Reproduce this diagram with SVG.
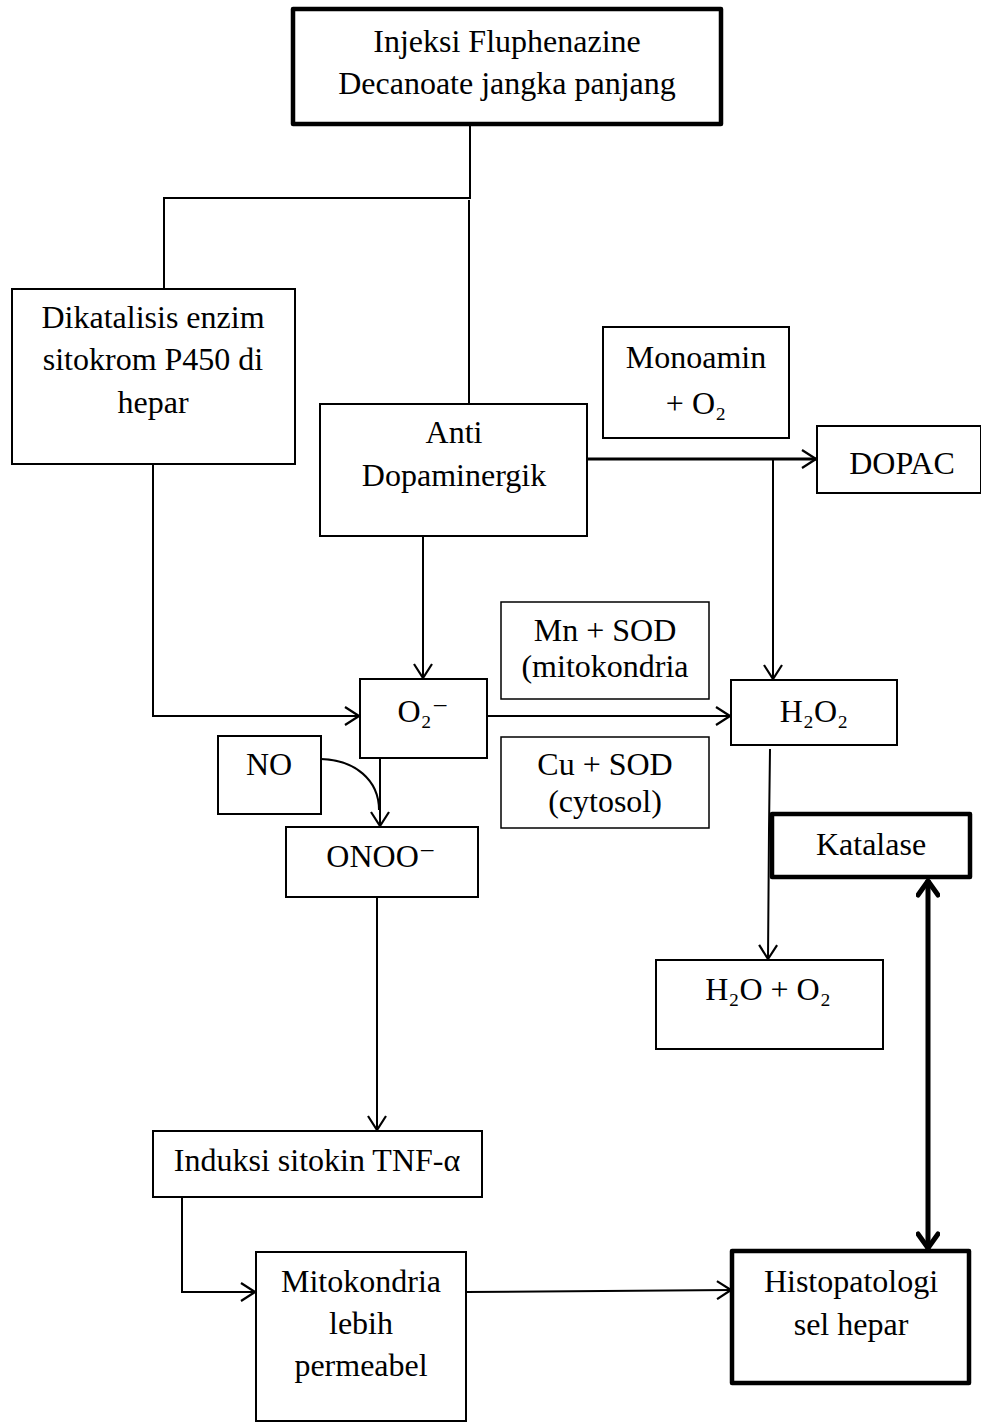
<svg xmlns="http://www.w3.org/2000/svg" width="981" height="1423" viewBox="0 0 981 1423">
<style>
.box{fill:#fff;stroke:#000;stroke-width:2}
.thin{fill:#fff;stroke:#000;stroke-width:1.5}
.thick{fill:#fff;stroke:#000;stroke-width:4.5;stroke-linejoin:round}
.ln{fill:none;stroke:#000;stroke-width:2}
.ln3{fill:none;stroke:#000;stroke-width:3}
.lnT{fill:none;stroke:#000;stroke-width:5}
text{font-family:"Liberation Serif","DejaVu Serif",serif;font-size:32px;fill:#000;text-anchor:middle}
</style>
<defs>
<marker id="ah" viewBox="0 0 16 20" refX="15" refY="10" markerWidth="16" markerHeight="20" markerUnits="userSpaceOnUse" orient="auto">
<path d="M1,1 L15,10 L1,19" fill="none" stroke="#000" stroke-width="2.2"/>
</marker>
<marker id="ahT" viewBox="0 0 20 24" refX="18" refY="12" markerWidth="20" markerHeight="24" markerUnits="userSpaceOnUse" orient="auto-start-reverse">
<path d="M3,2 L17,12 L3,22" fill="none" stroke="#000" stroke-width="5" stroke-linecap="round" stroke-linejoin="round"/>
</marker>
</defs>
<g id="connectors">
<polyline class="ln" points="470,124 470,198 164,198 164,289"/>
<line class="ln" x1="469" y1="200" x2="469" y2="404"/>
<polyline class="ln" points="153,464 153,716 359,716" marker-end="url(#ah)"/>
<line class="ln" x1="423" y1="536" x2="423" y2="678" marker-end="url(#ah)"/>
<line class="ln3" x1="587" y1="459" x2="816" y2="459" marker-end="url(#ah)"/>
<line class="ln" x1="773" y1="459" x2="773" y2="679" marker-end="url(#ah)"/>
<line class="ln" x1="487" y1="716" x2="730" y2="716" marker-end="url(#ah)"/>
<line class="ln" x1="380" y1="758" x2="380" y2="826" marker-end="url(#ah)"/>
<path class="ln" d="M321,759 C355,760 379,780 379,810"/>
<polyline class="ln" points="770,749 769,830 768,959" marker-end="url(#ah)"/>
<line class="lnT" x1="928" y1="880" x2="928" y2="1249" marker-start="url(#ahT)" marker-end="url(#ahT)"/>
<line class="ln" x1="377" y1="897" x2="377" y2="1130" marker-end="url(#ah)"/>
<polyline class="ln" points="182,1197 182,1292 255,1292" marker-end="url(#ah)"/>
<line class="ln" x1="466" y1="1292" x2="731" y2="1290" marker-end="url(#ah)"/>
</g>
<g id="n-injeksi">
<rect class="thick" x="293" y="9" width="428" height="115"/>
<text x="507" y="52">Injeksi Fluphenazine</text>
<text x="507" y="94">Decanoate jangka panjang</text>
</g>
<g id="n-dikatalisis">
<rect class="box" x="12" y="289" width="283" height="175"/>
<text x="153" y="328">Dikatalisis enzim</text>
<text x="153" y="370">sitokrom P450 di</text>
<text x="153" y="413">hepar</text>
</g>
<g id="n-anti">
<rect class="box" x="320" y="404" width="267" height="132"/>
<text x="454" y="443">Anti</text>
<text x="454" y="486">Dopaminergik</text>
</g>
<g id="n-monoamin">
<rect class="box" x="603" y="327" width="186" height="111"/>
<text x="696" y="368">Monoamin</text>
<text x="696" y="414">+ O₂</text>
</g>
<g id="n-dopac">
<rect class="box" x="817" y="426" width="164" height="67"/>
<text x="902" y="474">DOPAC</text>
</g>
<g id="n-mnsod">
<rect class="thin" x="501" y="602" width="208" height="97"/>
<text x="605" y="641">Mn + SOD</text>
<text x="605" y="677">(mitokondria</text>
</g>
<g id="n-o2">
<rect class="box" x="360" y="679" width="127" height="79"/>
<text x="423" y="722">O₂⁻</text>
</g>
<g id="n-h2o2">
<rect class="box" x="731" y="680" width="166" height="65"/>
<text x="814" y="722">H₂O₂</text>
</g>
<g id="n-no">
<rect class="box" x="218" y="736" width="103" height="78"/>
<text x="269" y="775">NO</text>
</g>
<g id="n-cusod">
<rect class="thin" x="501" y="737" width="208" height="91"/>
<text x="605" y="775">Cu + SOD</text>
<text x="605" y="812">(cytosol)</text>
</g>
<g id="n-onoo">
<rect class="box" x="286" y="827" width="192" height="70"/>
<text x="381" y="867">ONOO⁻</text>
</g>
<g id="n-katalase">
<rect class="thick" x="772" y="814" width="198" height="63"/>
<text x="871" y="855">Katalase</text>
</g>
<g id="n-h2o-o2">
<rect class="box" x="656" y="960" width="227" height="89"/>
<text x="768" y="1000">H₂O + O₂</text>
</g>
<g id="n-induksi">
<rect class="box" x="153" y="1131" width="329" height="66"/>
<text x="317" y="1171">Induksi sitokin TNF-α</text>
</g>
<g id="n-mitokondria">
<rect class="box" x="256" y="1252" width="210" height="169"/>
<text x="361" y="1292">Mitokondria</text>
<text x="361" y="1334">lebih</text>
<text x="361" y="1376">permeabel</text>
</g>
<g id="n-histopatologi">
<rect class="thick" x="732" y="1251" width="237" height="132"/>
<text x="851" y="1292">Histopatologi</text>
<text x="851" y="1335">sel hepar</text>
</g>
</svg>
